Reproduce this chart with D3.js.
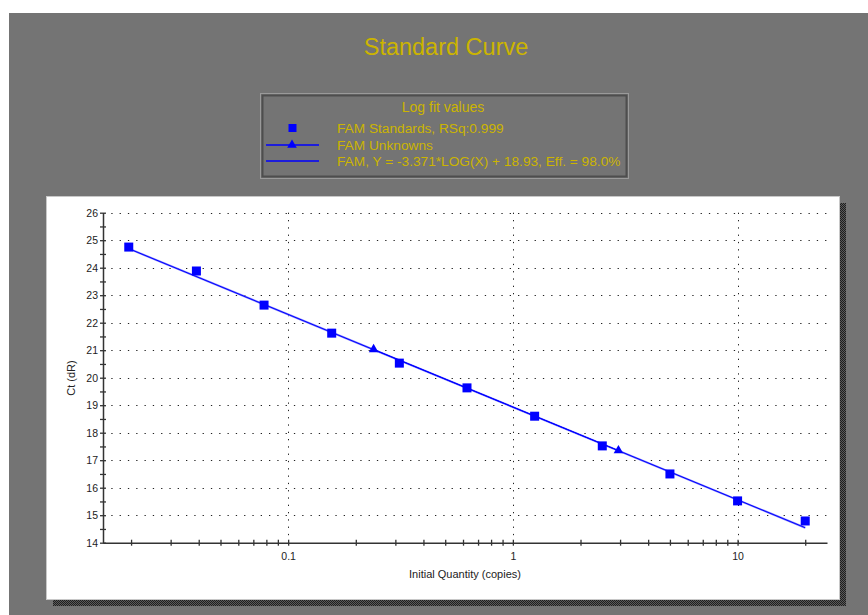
<!DOCTYPE html>
<html>
<head>
<meta charset="utf-8">
<script src="https://cdn.jsdelivr.net/npm/d3@7"></script>
<style>
  html, body { margin: 0; padding: 0; background: #ffffff; }
  svg { display: block; font-family: "Liberation Sans", Arial, sans-serif; }
</style>
</head>
<body>
<svg id="chart" width="868" height="615"></svg>
<script>
// Standards: quantity (copies) and threshold cycle
const stdQty = [20, 10, 5, 2.5, 1.25, 0.625, 0.3125, 0.15625, 0.078125, 0.0390625, 0.01953125];
const stdCt  = [14.79, 15.52, 16.50, 17.52, 18.60, 19.63, 20.53, 21.62, 22.64, 23.88, 24.75];

// Unknowns placed on the curve
const unkQty = [0.24, 2.95];
const unkCt  = [21.03, 17.35];

// Log fit: Y = slope*LOG(X) + intercept
const fitSlope = -3.371;
const fitIntercept = 18.93;

const yTickLabels = [14, 15, 16, 17, 18, 19, 20, 21, 22, 23, 24, 25, 26];
const xTickLabels = [0.1, 1, 10];

const titleText = "Standard Curve";
const legendTitle = "Log fit values";
const legendItems = [
  "FAM Standards, RSq:0.999",
  "FAM Unknowns",
  "FAM, Y = -3.371*LOG(X) + 18.93, Eff. = 98.0%"
];

const svg = d3.select("#chart");
const BG = "#747474";
const YELLOW = "#ccb400";
const BLUE = "#0000ff";

// checkered drop shadow
const defs = svg.append("defs");
const pat = defs.append("pattern").attr("id", "checker")
  .attr("width", 2).attr("height", 2).attr("patternUnits", "userSpaceOnUse");
pat.append("rect").attr("width", 2).attr("height", 2).attr("fill", "#5a5a5a");
pat.append("rect").attr("width", 1).attr("height", 1).attr("fill", "#1e1e1e");
pat.append("rect").attr("x", 1).attr("y", 1).attr("width", 1).attr("height", 1).attr("fill", "#1e1e1e");

// page background
svg.append("rect").attr("x", 9).attr("y", 13).attr("width", 859).attr("height", 602).attr("fill", BG);

// title
svg.append("text").attr("x", 446).attr("y", 55).attr("text-anchor", "middle")
  .attr("font-size", 23.5).attr("fill", YELLOW).text(titleText);

// legend box
const lg = svg.append("g");
lg.append("rect").attr("x", 260.5).attr("y", 93.5).attr("width", 368).attr("height", 85)
  .attr("fill", BG).attr("stroke", "#9a9a9a").attr("stroke-width", 1);
lg.append("rect").attr("x", 262.5).attr("y", 95.5).attr("width", 364).attr("height", 81)
  .attr("fill", BG).attr("stroke", "#4e4e4e").attr("stroke-width", 2);
lg.append("text").attr("x", 443).attr("y", 112).attr("text-anchor", "middle")
  .attr("font-size", 14).attr("fill", YELLOW).text(legendTitle);
const legendY = [128, 145, 161];
legendItems.forEach((t, i) => {
  lg.append("text").attr("x", 337).attr("y", legendY[i] + 5)
    .attr("font-size", 13.7).attr("fill", YELLOW).text(t);
});
lg.append("rect").attr("x", 288.5).attr("y", legendY[0] - 4).attr("width", 8).attr("height", 8).attr("fill", BLUE);
lg.append("line").attr("x1", 266).attr("x2", 319).attr("y1", legendY[1]).attr("y2", legendY[1])
  .attr("stroke", BLUE).attr("stroke-width", 1.5);
lg.append("path").attr("d", d3.symbol(d3.symbolTriangle, 40)())
  .attr("transform", `translate(292,${legendY[1]})`).attr("fill", BLUE);
lg.append("line").attr("x1", 266).attr("x2", 319).attr("y1", legendY[2]).attr("y2", legendY[2])
  .attr("stroke", BLUE).attr("stroke-width", 1.5);

// plot panel with shadow
svg.append("rect").attr("x", 53).attr("y", 203).attr("width", 793).attr("height", 403).attr("fill", "url(#checker)");
svg.append("rect").attr("x", 46.5).attr("y", 196.5).attr("width", 793).attr("height", 403)
  .attr("fill", "#ffffff").attr("stroke", "#c8c8c8").attr("stroke-width", 1);

// scales
const x = d3.scaleLog().domain([0.015, 25]).range([103, 827]);
const y = d3.scaleLinear().domain([14, 26]).range([542.7, 212.7]);

const plot = svg.append("g");

// dotted grid
plot.selectAll(".hgrid").data(yTickLabels.filter(v => v > 14)).join("line")
  .attr("x1", x.range()[0]).attr("x2", x.range()[1])
  .attr("y1", d => Math.round(y(d)) + 0.5).attr("y2", d => Math.round(y(d)) + 0.5)
  .attr("stroke", "#222").attr("stroke-width", 1).attr("stroke-dasharray", "1.3,7");
plot.selectAll(".vgrid").data(xTickLabels).join("line")
  .attr("x1", d => Math.round(x(d)) + 0.5).attr("x2", d => Math.round(x(d)) + 0.5)
  .attr("y1", y(26)).attr("y2", y(14))
  .attr("stroke", "#222").attr("stroke-width", 1).attr("stroke-dasharray", "1.3,6");

// x axis
const xMinor = [];
[0.01, 0.1, 1, 10].forEach(dec => {
  for (let k = 1; k <= 9; k++) {
    const v = +(dec * k).toPrecision(3);
    if (v >= x.domain()[0] && v <= x.domain()[1]) xMinor.push(v);
  }
});
const xAxis = plot.append("g").attr("transform", `translate(0,${y(14)})`)
  .call(d3.axisBottom(x).tickValues(xMinor).tickSize(3).tickSizeOuter(0)
    .tickFormat(d => xTickLabels.includes(d) ? String(d) : ""));
xAxis.select(".domain").attr("stroke", "#333").attr("stroke-width", 1.5);
xAxis.selectAll(".tick line").attr("y1", -3).attr("y2", 3).attr("stroke", "#333").attr("stroke-width", 1.3);
xAxis.selectAll(".tick text").attr("y", 10).attr("font-size", 10.5)
  .attr("font-family", "'Liberation Sans', Arial, sans-serif").attr("fill", "#222");

// y axis
const yHalf = d3.range(14, 26.01, 0.5);
const yAxis = plot.append("g").attr("transform", `translate(${x.range()[0]},0)`)
  .call(d3.axisLeft(y).tickValues(yHalf).tickSize(3).tickSizeOuter(0)
    .tickFormat(d => Number.isInteger(d) ? String(d) : ""));
yAxis.select(".domain").attr("stroke", "#333").attr("stroke-width", 1.5);
yAxis.selectAll(".tick line").attr("x1", -3).attr("x2", 3).attr("stroke", "#333").attr("stroke-width", 1.3);
yAxis.selectAll(".tick text").attr("x", -5).attr("font-size", 10.5)
  .attr("font-family", "'Liberation Sans', Arial, sans-serif").attr("fill", "#222");

// axis titles
svg.append("text").attr("x", 465).attr("y", 578).attr("text-anchor", "middle")
  .attr("font-size", 11).attr("fill", "#222").text("Initial Quantity (copies)");
svg.append("text").attr("transform", "translate(75,378) rotate(-90)").attr("text-anchor", "middle")
  .attr("font-size", 11).attr("fill", "#222").text("Ct (dR)");

// fit line across standards' range
const qExtent = d3.extent(stdQty);
const fitPts = qExtent.map(q => [q, fitSlope * Math.log10(q) + fitIntercept]);
const line = d3.line().x(d => x(d[0])).y(d => y(d[1]));
plot.append("path").attr("d", line(fitPts)).attr("fill", "none")
  .attr("stroke", "#8080ff").attr("stroke-width", 2);
plot.append("path").attr("d", line(fitPts)).attr("fill", "none")
  .attr("stroke", BLUE).attr("stroke-width", 1);

// unknowns line
const unkPts = unkQty.map((q, i) => [q, unkCt[i]]);
plot.append("path").attr("d", line(unkPts)).attr("fill", "none")
  .attr("stroke", BLUE).attr("stroke-width", 1);

// standards markers
plot.selectAll(".std").data(stdQty.map((q, i) => [q, stdCt[i]])).join("rect")
  .attr("x", d => x(d[0]) - 4.5).attr("y", d => y(d[1]) - 4.5)
  .attr("width", 9).attr("height", 9).attr("fill", BLUE);

// unknown markers
plot.selectAll(".unk").data(unkPts).join("path")
  .attr("d", d3.symbol(d3.symbolTriangle, 40)())
  .attr("transform", d => `translate(${x(d[0])},${y(d[1])})`).attr("fill", BLUE);
</script>
</body>
</html>
